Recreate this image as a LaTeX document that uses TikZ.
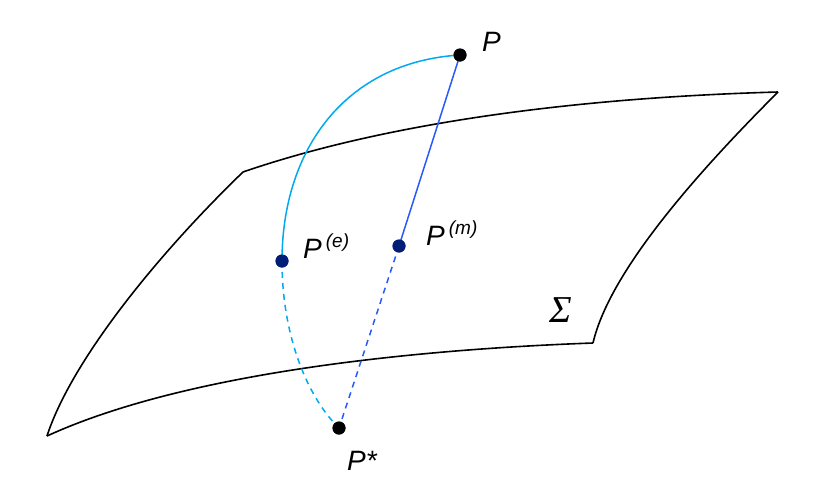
\documentclass[tikz,border=0pt]{standalone}
\usepackage{fontspec}
\setmainfont{Liberation Sans}
\newfontfamily\serifit{Liberation Serif}
\definecolor{arcblue}{RGB}{0,170,238}
\definecolor{lineblue}{RGB}{40,90,250}
\definecolor{navy}{RGB}{0,30,120}
\begin{document}
\begin{tikzpicture}[x=1pt,y=-1pt,
  edge/.style={line width=1.6pt,black},
  dotb/.style={circle,fill=black,inner sep=0pt,minimum size=13pt},
  dotn/.style={circle,fill=navy,inner sep=0pt,minimum size=13pt},
  lbl/.style={font=\fontsize{28}{30}\selectfont\itshape,inner sep=0pt}]
\useasboundingbox (0,0) rectangle (820,501);
% surface
\coordinate (c1) at (243,172);
\coordinate (c2) at (778,92);
\coordinate (c3) at (593,343);
\coordinate (c4) at (47,436);
\draw[edge] (c1) .. controls (400,118) and (600,97) .. (c2);
\draw[edge] (c1) .. controls (150,262) and (70,365) .. (c4);
\draw[edge] (c4) .. controls (180,375) and (400,350) .. (c3);
\draw[edge] (c2) .. controls (700,170) and (610,270) .. (c3);
% points
\node[dotb] (P) at (460,55) {};
\node[dotn] (Pm) at (399,246) {};
\node[dotn] (Pe) at (282,261) {};
\node[dotb] (Ps) at (339,428) {};
% connectors
\draw[arcblue,line width=1.5pt] (P.center) .. controls (345,62) and (282,150) .. (Pe.center);
\draw[arcblue,line width=1.5pt,dash pattern=on 6pt off 5pt] (Pe.center) .. controls (282,340) and (310,400) .. (Ps.center);
\draw[lineblue,line width=1.5pt] (P.center) -- (Pm.center);
\draw[lineblue,line width=1.5pt,dash pattern=on 6pt off 5pt] (Pm.center) -- (Ps.center);
\node[dotb] at (P) {};
\node[dotn] at (Pm) {};
\node[dotn] at (Pe) {};
\node[dotb] at (Ps) {};
% labels
\node[lbl,anchor=base west] (lP) at (482,51) {P};
\node[lbl,anchor=base west] (lPe) at (303,258) {P\hspace{4pt}\raisebox{11pt}{\fontsize{19}{20}\selectfont(e)}};
\node[lbl,anchor=base west] (lPm) at (426,245) {P\hspace{4pt}\raisebox{11pt}{\fontsize{19}{20}\selectfont(m)}};
\node[lbl,anchor=base west] (lPs) at (347,470) {P*};
\node[font=\fontsize{38}{40}\selectfont\serifit\itshape,inner sep=0pt,anchor=base west] (sig) at (549,322) {Σ};
\end{tikzpicture}
\end{document}
